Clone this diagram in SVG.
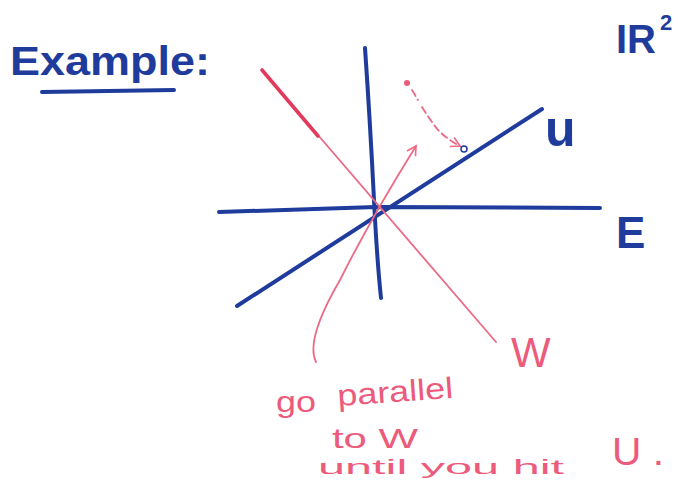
<svg xmlns="http://www.w3.org/2000/svg" width="683" height="495" viewBox="0 0 683 495">
<defs>
<style>
.blue{fill:none;stroke:#1f3c9c;stroke-width:4;stroke-linecap:round}
.red{fill:none;stroke:#ec6a86;stroke-width:1.8;stroke-linecap:round}
.tb{fill:#1f3c9c;font-family:"Liberation Sans",Arial,sans-serif}
.tr{fill:#ec5a7c;font-family:"Liberation Sans",Arial,sans-serif}
</style>
<marker id="ah" viewBox="0 0 12 12" refX="10" refY="6" markerWidth="12" markerHeight="12" markerUnits="userSpaceOnUse" orient="auto">
<path d="M1,1 L10,6 L1,11" fill="none" stroke="#ec6a86" stroke-width="1.6"/>
</marker>
</defs>
<rect width="683" height="495" fill="#ffffff"/>
<g id="title">
<text class="tb" x="10" y="75" font-size="40" font-weight="bold" textLength="200" lengthAdjust="spacingAndGlyphs">Example:</text>
<path class="blue" d="M42,92 L174,90" stroke-width="3"/>
</g>
<g id="r2">
<text class="tb" x="616" y="53" font-size="40" font-weight="bold">IR</text>
<text class="tb" x="660" y="30" font-size="22" font-weight="bold">2</text>
</g>
<g id="axes">
<path class="blue" d="M365,48 Q370,120 374,200 Q377,260 381,298"/>
<path class="blue" d="M219,212 L376,207 L600,208"/>
<text class="tb" x="616" y="248" font-size="44" font-weight="bold">E</text>
</g>
<g id="U">
<path class="blue" d="M237,306 L542,109"/>
<text class="tb" x="545" y="146" font-size="50" font-weight="bold">u</text>
</g>
<g id="W">
<path class="red" d="M262,70 L496,342" stroke-width="2"/>
<path d="M262,70 L318,136" stroke="#e23a5c" stroke-width="3.6" stroke-linecap="round" fill="none"/>
<text class="tr" x="511" y="367" font-size="42">W</text>
</g>
<g id="connectors">
<path class="red" d="M316,362 Q305,340 340,280 Q370,220 416,146" marker-end="url(#ah)"/>
<circle cx="407" cy="83" r="3" fill="#ec5a7c"/>
<path class="red" d="M412,90 L418,100 M422,107 Q430,120 438,130 Q448,140 460,146" stroke-dasharray="7,4" marker-end="url(#ah)"/>
<circle cx="464" cy="149" r="3" fill="#ffffff" stroke="#1f3c9c" stroke-width="1.5"/>
</g>
<g id="note">
<text class="tr" x="276" y="412" font-size="30" textLength="40" lengthAdjust="spacingAndGlyphs">go</text>
<text class="tr" x="338" y="406" font-size="30" textLength="116" lengthAdjust="spacingAndGlyphs" transform="rotate(-4 338 406)">parallel</text>
<text class="tr" x="332" y="448" font-size="28" textLength="86" lengthAdjust="spacingAndGlyphs">to W</text>
<text class="tr" x="318" y="474" font-size="20" textLength="246" lengthAdjust="spacingAndGlyphs">until you hit</text>
<text class="tr" x="612" y="465" font-size="38" textLength="52" lengthAdjust="spacingAndGlyphs">U .</text>
</g>
</svg>
